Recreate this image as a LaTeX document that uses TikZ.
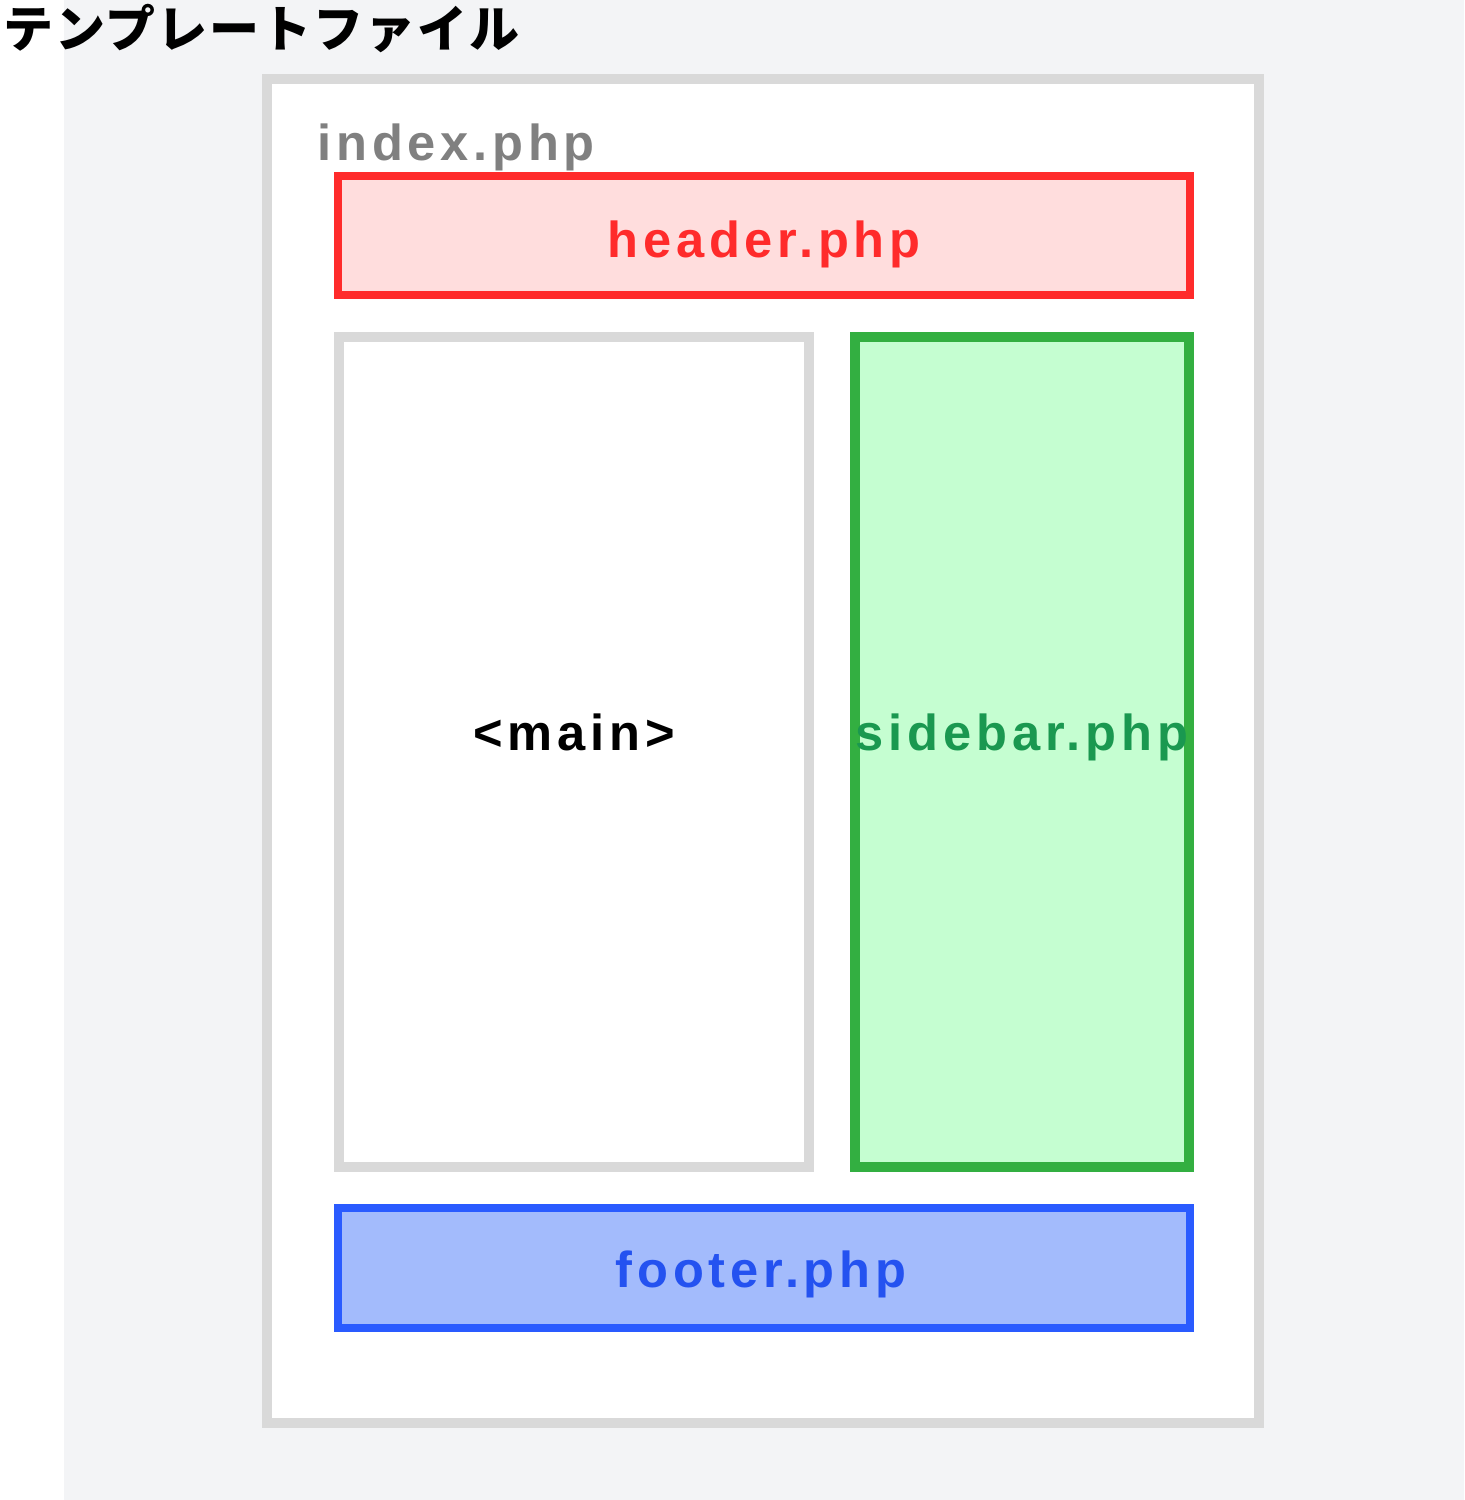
\documentclass[tikz,border=0pt]{standalone}
\usepackage{fontspec}
\setmainfont{Liberation Sans}
\newfontfamily\labelfont[LetterSpace=9.5]{Liberation Sans}
\newfontfamily\cjkfont[LetterSpace=4]{Noto Sans CJK JP}

\definecolor{pagegray}{HTML}{F3F4F6}
\definecolor{framegray}{HTML}{D9D9D9}
\definecolor{hdrline}{HTML}{FF2B2B}
\definecolor{hdrfill}{HTML}{FFDDDD}
\definecolor{sideline}{HTML}{33AF41}
\definecolor{sidefill}{HTML}{C5FED1}
\definecolor{sidetext}{HTML}{1A9850}
\definecolor{footline}{HTML}{2A5BFF}
\definecolor{footfill}{HTML}{A3BBFC}
\definecolor{foottext}{HTML}{2452F0}

\begin{document}
\begin{tikzpicture}[x=0.5pt, y=-0.5pt,
    filebox/.style={rectangle, inner sep=0pt, line width=4pt},
    filelabel/.style={inner sep=0pt, anchor=base, font=\labelfont\bfseries\fontsize{25.3}{30}\selectfont}]
            \useasboundingbox (0,0) rectangle (1464,1500);
            \fill[white] (0,0) rectangle (64,1500);
            \fill[pagegray] (64,0) rectangle (1464,1500);

            % outer page frame
            \node[filebox, draw=framegray, fill=white, line width=5pt,
                minimum width=496pt, minimum height=672pt] (index) at (763,751) {};

            \node[filebox, draw=hdrline, fill=hdrfill,
                minimum width=426pt, minimum height=59.5pt] (header) at (764,235.5) {};
            \node[filebox, draw=framegray, fill=white, line width=5pt,
                minimum width=235pt, minimum height=415pt] (main) at (574,752) {};
            \node[filebox, draw=sideline, fill=sidefill, line width=5pt,
                minimum width=167pt, minimum height=415pt] (sidebar) at (1022,752) {};
            \node[filebox, draw=footline, fill=footfill,
                minimum width=426pt, minimum height=60pt] (footer) at (764,1268) {};

            \node[inner sep=0pt, anchor=west, font=\cjkfont\bfseries\fontsize{25}{30}\selectfont] (title) at (3,29) {テンプレートファイル};
            \node[filelabel, anchor=base west, text={rgb,255:red,128;green,128;blue,128}] (indexlbl) at (317,160) {index.php};
            \node[filelabel, text=hdrline] (headerlbl) at (764,257) {header.php};
            \node[filelabel, text=black] (mainlbl) at (574,750) {<main>};
            \node[filelabel, text=sidetext] (sidebarlbl) at (1022,750) {sidebar.php};
            \node[filelabel, text=foottext] (footerlbl) at (761,1287) {footer.php};
    \end{tikzpicture}
\end{document}
